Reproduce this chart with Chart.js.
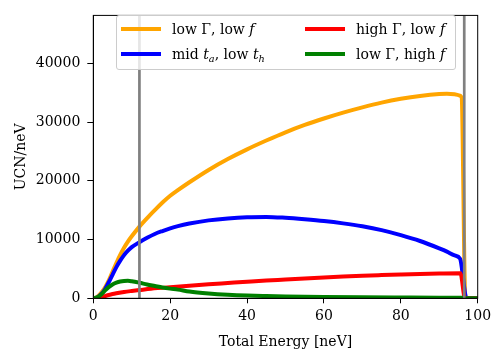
<!DOCTYPE html>
<html>
<head>
<meta charset="utf-8">
<script src="https://cdn.jsdelivr.net/npm/chart.js@4.4.1/dist/chart.umd.min.js"></script>
<style>
  body { margin: 0; background: #fff; }
  #wrap { position: relative; width: 504px; height: 363px; font-family: "DejaVu Serif", serif; }
  #legend {
    position: absolute; left: 116px; top: 15px; width: 338px; height: 53px;
    background: rgba(255, 255, 255, 0.8); border: 1px solid #cccccc; border-radius: 3px;
    font-size: 14px; color: #000;
  }
  .item { position: absolute; white-space: nowrap; line-height: 16px; }
  .swatch { position: absolute; height: 4px; width: 40px; }
  sub { font-size: 70%; vertical-align: -3px; line-height: 0; }
</style>
</head>
<body>
<div id="wrap">
  <canvas id="chart" width="504" height="363"></canvas>
  <div id="legend">
    <div class="swatch" style="left:4px; top:11px; background:#ffa500"></div>
    <div class="item" style="left:55px; top:5px">low Γ, low <i>f</i></div>
    <div class="swatch" style="left:4px; top:36px; background:#0000ff"></div>
    <div class="item" style="left:55px; top:30px">mid <i>t<sub>a</sub></i>, low <i>t<sub>h</sub></i></div>
    <div class="swatch" style="left:188px; top:11px; background:#ff0000"></div>
    <div class="item" style="left:239px; top:5px">high Γ, low <i>f</i></div>
    <div class="swatch" style="left:188px; top:36px; background:#008000"></div>
    <div class="item" style="left:239px; top:30px">low Γ, high <i>f</i></div>
  </div>
</div>
<script>
// values
const xTicks = [0, 20, 40, 60, 80, 100]
const yTicks = [0, 10000, 20000, 30000, 40000]
const markerEnergies = [12, 96.5]

// low Gamma, low f
const orangeE = [0, 1, 2, 3, 4, 5, 6, 7, 8, 9, 10, 12, 14, 16, 18, 20, 22, 25, 30, 35, 40, 45, 50, 55, 60, 65, 70, 75, 80, 85, 90, 92, 94, 95, 95.8, 96.8, 100]
const orangeUCN = [0, 250, 900, 1800, 3000, 4500, 6000, 7400, 8600, 9650, 10550, 12200, 13650, 15000, 16300, 17450, 18400, 19750, 21850, 23700, 25350, 26850, 28250, 29500, 30600, 31600, 32500, 33300, 33950, 34450, 34780, 34830, 34720, 34580, 34250, 0, 0]

// mid t_a, low t_h
const blueE = [0, 1, 2, 3, 4, 5, 6, 7, 8, 9, 10, 12, 14, 16, 18, 20, 22, 25, 30, 35, 40, 45, 50, 55, 60, 65, 70, 75, 80, 85, 90, 92, 94, 95.4, 97.1, 100]
const blueUCN = [0, 150, 650, 1500, 2700, 4000, 5300, 6400, 7350, 8100, 8700, 9550, 10300, 10950, 11450, 11900, 12280, 12720, 13260, 13600, 13800, 13850, 13700, 13450, 13150, 12750, 12250, 11600, 10750, 9750, 8500, 7950, 7300, 6750, 0, 0]

// high Gamma, low f
const redE = [0, 1, 2, 3, 4, 5, 6, 8, 10, 12, 15, 20, 25, 30, 35, 40, 45, 50, 55, 60, 65, 70, 75, 80, 85, 90, 95.5, 96.7, 100]
const redUCN = [0, 60, 200, 380, 560, 720, 850, 1080, 1250, 1400, 1620, 1900, 2150, 2380, 2600, 2820, 3030, 3200, 3380, 3550, 3710, 3850, 3960, 4060, 4150, 4220, 4270, 0, 0]

// low Gamma, high f
const greenE = [0, 1, 2, 3, 4, 5, 6, 7, 8, 9, 10, 12, 14, 16, 18, 20, 22, 25, 30, 35, 40, 45, 50, 60, 70, 80, 90, 96, 97, 100]
const greenUCN = [0, 150, 600, 1300, 1900, 2350, 2650, 2850, 2950, 2970, 2900, 2650, 2350, 2100, 1850, 1650, 1480, 1150, 820, 600, 460, 380, 320, 230, 170, 130, 100, 80, 0, 0]

const yMax = 48150

function toPoints(xs, ys) {
  return xs.map((x, i) => ({ x: x, y: ys[i] }))
}

function curve(xs, ys, color, order) {
  return {
    data: toPoints(xs, ys),
    borderColor: color,
    borderWidth: 4,
    pointRadius: 0,
    cubicInterpolationMode: "monotone",
    order: order,
  }
}

// Chart.js draws lower "order" on top, so the last matplotlib line gets the lowest
const datasets = [
  curve(orangeE, orangeUCN, "#ffa500", 5),
  curve(blueE, blueUCN, "#0000ff", 4),
  curve(redE, redUCN, "#ff0000", 3),
  curve(greenE, greenUCN, "#008000", 2),
]
markerEnergies.forEach((e) => {
  datasets.push({
    data: [{ x: e, y: 0 }, { x: e, y: yMax }],
    borderColor: "#808080",
    borderWidth: 2.7,
    pointRadius: 0,
    order: 1,
  })
})

// full box round the plot, like matplotlib spines
const frame = {
  id: "frame",
  afterDraw(chart) {
    const { ctx, chartArea: a } = chart
    ctx.save()
    ctx.strokeStyle = "#000"
    ctx.lineWidth = 1
    ctx.strokeRect(a.left, a.top, a.right - a.left, a.bottom - a.top)
    ctx.restore()
  },
}

const font = { family: "DejaVu Serif", size: 14 }

new Chart(document.getElementById("chart"), {
  type: "line",
  data: { datasets: datasets },
  plugins: [frame],
  options: {
    responsive: false,
    animation: false,
    layout: { padding: { top: 12.3, right: 26.3, left: 0, bottom: 0 } },
    plugins: { legend: { display: false }, tooltip: { enabled: false } },
    scales: {
      x: {
        type: "linear",
        min: 0,
        max: 100,
        afterBuildTicks: (s) => { s.ticks = xTicks.map((v) => ({ value: v })) },
        afterFit: (s) => { s.height = 64.7 },
        ticks: { color: "#000", font: font, padding: 5, maxRotation: 0 },
        grid: { drawOnChartArea: false, tickLength: 5, color: "#000" },
        border: { color: "#000", width: 1 },
        title: { display: true, text: "Total Energy [neV]", color: "#000", font: font, padding: { bottom: 12 } },
      },
      y: {
        type: "linear",
        min: 0,
        max: yMax,
        afterBuildTicks: (s) => { s.ticks = yTicks.map((v) => ({ value: v })) },
        afterFit: (s) => { s.width = 93.3 },
        ticks: { color: "#000", font: font, padding: 7, callback: (v) => String(v) },
        grid: { drawOnChartArea: false, tickLength: 6, color: "#000" },
        border: { color: "#000", width: 1 },
        title: { display: true, text: "UCN/neV", color: "#000", font: font, padding: { top: 12.6 } },
      },
    },
  },
})
</script>
</body>
</html>
